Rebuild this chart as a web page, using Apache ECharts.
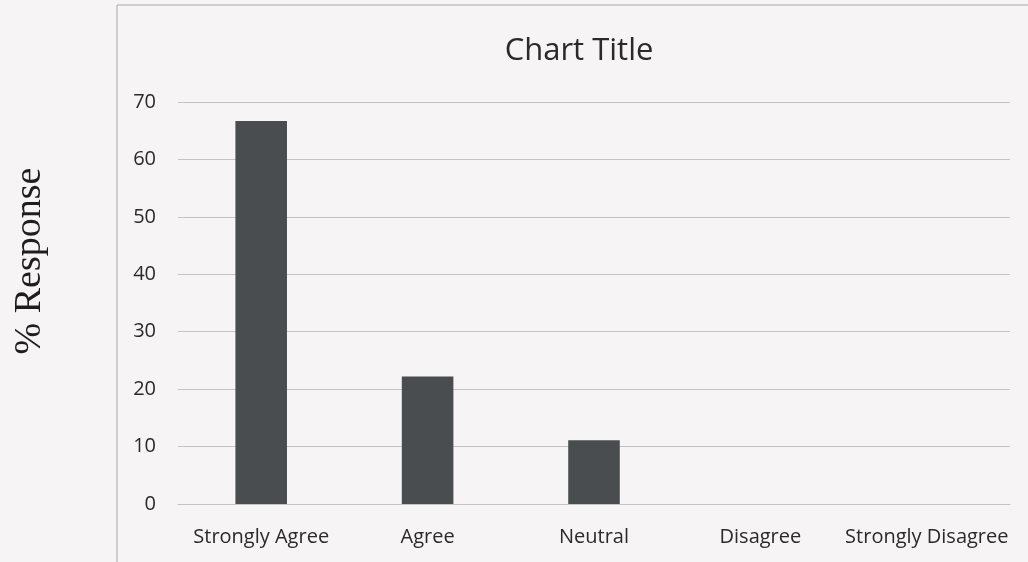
<!DOCTYPE html>
<html>
<head>
<meta charset="utf-8">
<script src="https://cdn.jsdelivr.net/npm/echarts@6/dist/echarts.min.js"></script>
<style>
html,body{margin:0;padding:0;background:#f7f4f5;}
#chart{width:1028px;height:562px;}
</style>
</head>
<body>
<div id="chart"></div>
<script>
const categories = ['Strongly Agree', 'Agree', 'Neutral', 'Disagree', 'Strongly Disagree'];
const responses = [66.7, 22.2, 11.1, 0, 0];
const yTicks = { min: 0, max: 70, interval: 10 };

const chart = echarts.init(document.getElementById('chart'));
chart.setOption({
  backgroundColor: '#f7f4f5',
  animation: false,
  title: {
    text: 'Chart Title',
    left: 574, textAlign: 'center',
    top: 31,
    textStyle: { fontFamily: 'Open Sans', fontSize: 31, fontWeight: 'normal', color: '#2a2a2a' }
  },
  graphic: [
    { type: 'rect', shape: { x: 117, y: 5, width: 1000, height: 700 },
      style: { fill: 'none', stroke: '#a9a7a8', lineWidth: 1 }, silent: true },
    { type: 'text', x: 30, y: 261, rotation: Math.PI / 2,
      style: { text: '% Response', font: '38px "Liberation Serif"', fill: '#1e1e1e',
               textAlign: 'center', textVerticalAlign: 'middle' } }
  ],
  grid: { left: 178, right: 18, top: 102, bottom: 58 },
  xAxis: {
    type: 'category',
    data: categories,
    axisTick: { show: false },
    axisLine: { show: true, lineStyle: { color: '#c4c2c3', width: 1 } },
    axisLabel: { fontFamily: 'Open Sans', fontSize: 20, color: '#2a2a2a', margin: 23, interval: 0 }
  },
  yAxis: {
    type: 'value',
    min: yTicks.min, max: yTicks.max, interval: yTicks.interval,
    axisLine: { show: false },
    axisTick: { show: false },
    splitLine: { lineStyle: { color: '#c4c2c3', width: 1 } },
    axisLabel: { fontFamily: 'Open Sans', fontSize: 20, color: '#2a2a2a', margin: 22 }
  },
  series: [{
    type: 'bar',
    data: responses,
    barWidth: '31%',
    itemStyle: { color: '#4a4d50' }
  }]
});
</script>
</body>
</html>
